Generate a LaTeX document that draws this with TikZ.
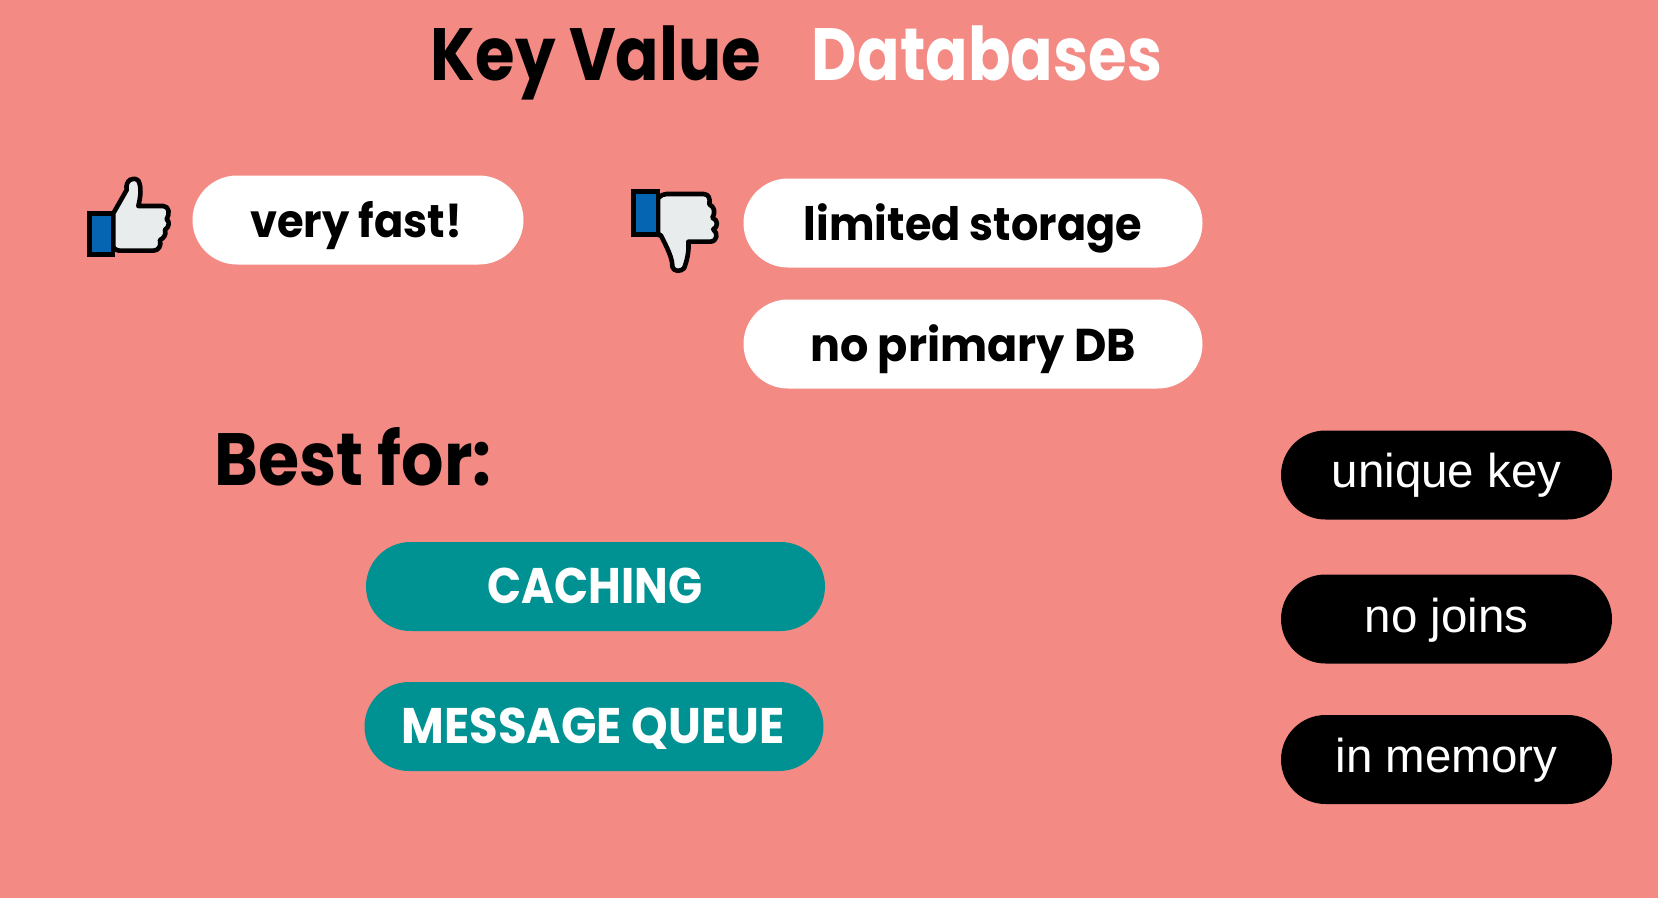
\documentclass[tikz,border=0pt]{standalone}
\usepackage{fontspec}
\usepackage{graphicx}
\setmainfont{Poppins}[BoldFont={Poppins Bold}]
\newfontfamily\armfont{Liberation Sans}
\definecolor{bgc}{HTML}{F38A84}
\definecolor{tealc}{HTML}{009292}
\definecolor{bluec}{HTML}{0565B3}
\definecolor{handc}{HTML}{E9ECED}
\newcommand{\fitw}[3]{\resizebox{#1pt}{\height}{\fontsize{#2}{#2}\selectfont\bfseries #3}}
\tikzset{
  pill/.style={minimum height=89pt,rounded corners=44.5pt,inner sep=0pt,outer sep=0pt},
  whitepill/.style={pill,fill=white},
  tealpill/.style={pill,fill=tealc},
  blackpill/.style={pill,fill=black,minimum width=331pt},
  lab/.style={anchor=base,inner sep=0pt,outer sep=0pt},
  handshape/.style={draw=black,line width=4.6pt,line join=round,fill=handc},
  sleeve/.style={draw=black,line width=4.6pt,line join=miter,fill=bluec},
  plainarm/.style={lab,text=white,font=\armfont\fontsize{47.5}{47.5}\selectfont}
}
\begin{document}
\begin{tikzpicture}[x=1pt,y=-1pt]
\useasboundingbox[fill=bgc] (0,0) rectangle (1658,898);
% title
\node[lab,text=black] (kv) at (596,80) {\fitw{330}{74}{Key Value}};
\node[lab,text=white] (db) at (987,80) {\fitw{350}{74}{Databases}};
% thumb up
\begin{scope}[shift={(70,160)},x=.3333pt,y=-.3333pt]
\path[handshape] (130,160) -- (170,90) .. controls (165,60) and (190,48) .. (205,62) .. controls (215,80) and (212,110) .. (205,138) -- (280,138) .. controls (298,140) and (300,160) .. (290,178) .. controls (300,185) and (298,200) .. (285,210) .. controls (290,225) and (280,235) .. (270,240) .. controls (275,258) and (265,272) .. (250,272) -- (150,272) .. controls (140,272) and (130,265) .. (130,260) -- cycle;
\path[sleeve] (58,161) rectangle (129,284);
\end{scope}
% thumb down
\begin{scope}[shift={(620,170)},x=.3333pt,y=-.3333pt]
\path[handshape] (114,85) .. controls (125,75) and (130,72) .. (140,72) -- (250,72) .. controls (265,72) and (272,85) .. (268,103) .. controls (282,110) and (288,125) .. (277,143) .. controls (295,150) and (295,170) .. (280,178) .. controls (295,190) and (292,215) .. (270,215) -- (205,215) .. controls (208,245) and (200,275) .. (192,295) .. controls (182,306) and (160,305) .. (157,290) .. controls (158,265) and (140,230) .. (122,195) -- (114,195) -- cycle;
\path[sleeve] (41,64) rectangle (114,194);
\end{scope}
% pills
\node[whitepill,minimum width=331pt] (p1) at (358,220) {};
\node[lab,text=black] (t1) at (356,237) {\fitw{212}{46}{very fast!}};
\node[whitepill,minimum width=459pt] (p2) at (973,223) {};
\node[lab,text=black] (t2) at (973,240.5) {\fitw{338}{46}{limited storage}};
\node[whitepill,minimum width=459pt] (p3) at (973,344) {};
\node[lab,text=black] (t3) at (973,361.5) {\fitw{326}{46}{no primary DB}};
% best for
\node[lab,text=black] (best) at (353,485) {\fitw{277}{74}{Best for:}};
\node[tealpill,minimum width=459pt] (p4) at (595.5,586.5) {};
\node[lab,text=white] (t4) at (595,603) {\fitw{215}{50}{CACHING}};
\node[tealpill,minimum width=459pt] (p5) at (594,726.5) {};
\node[lab,text=white] (t5) at (593,743) {\fitw{383}{50}{MESSAGE QUEUE}};
% right pills
\node[blackpill] (r1) at (1446.5,475) {};
\node[plainarm] (u1) at (1446.5,487) {unique key};
\node[blackpill] (r2) at (1446.5,619) {};
\node[plainarm] (u2) at (1446.5,632) {no joins};
\node[blackpill] (r3) at (1446.5,759.5) {};
\node[plainarm] (u3) at (1446.5,772) {in memory};
\end{tikzpicture}
\end{document}
